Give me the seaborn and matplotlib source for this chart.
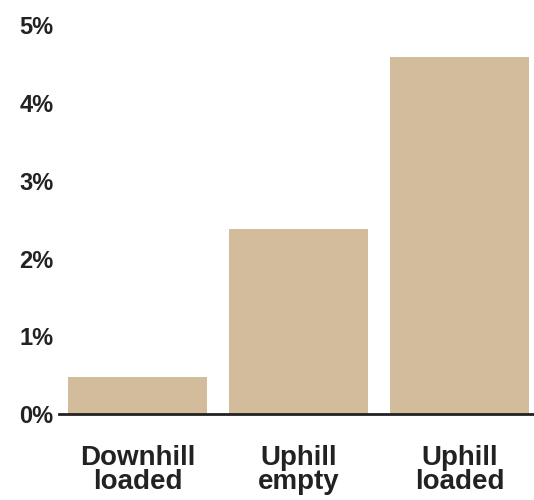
import matplotlib
matplotlib.use("Agg")
import matplotlib.pyplot as plt
import seaborn as sns
import pandas as pd

categories = ["Downhill\nloaded", "Uphill\nempty", "Uphill\nloaded"]
values = [0.47, 2.38, 4.6]
yticks = [0, 1, 2, 3, 4, 5]
ytick_labels = ["0%", "1%", "2%", "3%", "4%", "5%"]

sns.set_theme(style="white")
plt.rcParams['font.family'] = ['Liberation Sans', 'DejaVu Sans']

df = pd.DataFrame({"cat": categories, "val": values})

fig = plt.figure(figsize=(5.34, 5.0), dpi=100)
ax = fig.add_axes([0.1105, 0.172, 0.8895, 0.777])
sns.barplot(data=df, x="cat", y="val", color="#d3bc9b", saturation=1,
            width=0.865, ax=ax, linewidth=0)

ax.set_xlim(-0.488, 2.463)
ax.set_ylim(0, 5)
ax.set_yticks(yticks)
ax.set_yticklabels(ytick_labels)
ax.set_xlabel("")
ax.set_ylabel("")
for s in ["top", "right", "left"]:
    ax.spines[s].set_visible(False)
ax.spines["bottom"].set_color("#222222")
ax.spines["bottom"].set_linewidth(2)
ax.tick_params(axis="y", length=0, pad=4, labelsize=17, labelcolor="#222222")
ax.tick_params(axis="x", length=0, pad=22, labelsize=20, labelcolor="#222222")
for t in ax.get_yticklabels():
    t.set_fontweight("bold")
for t in ax.get_xticklabels():
    t.set_fontweight("bold")
    t.set_linespacing(0.92)

fig.savefig("out.png", dpi=100)
